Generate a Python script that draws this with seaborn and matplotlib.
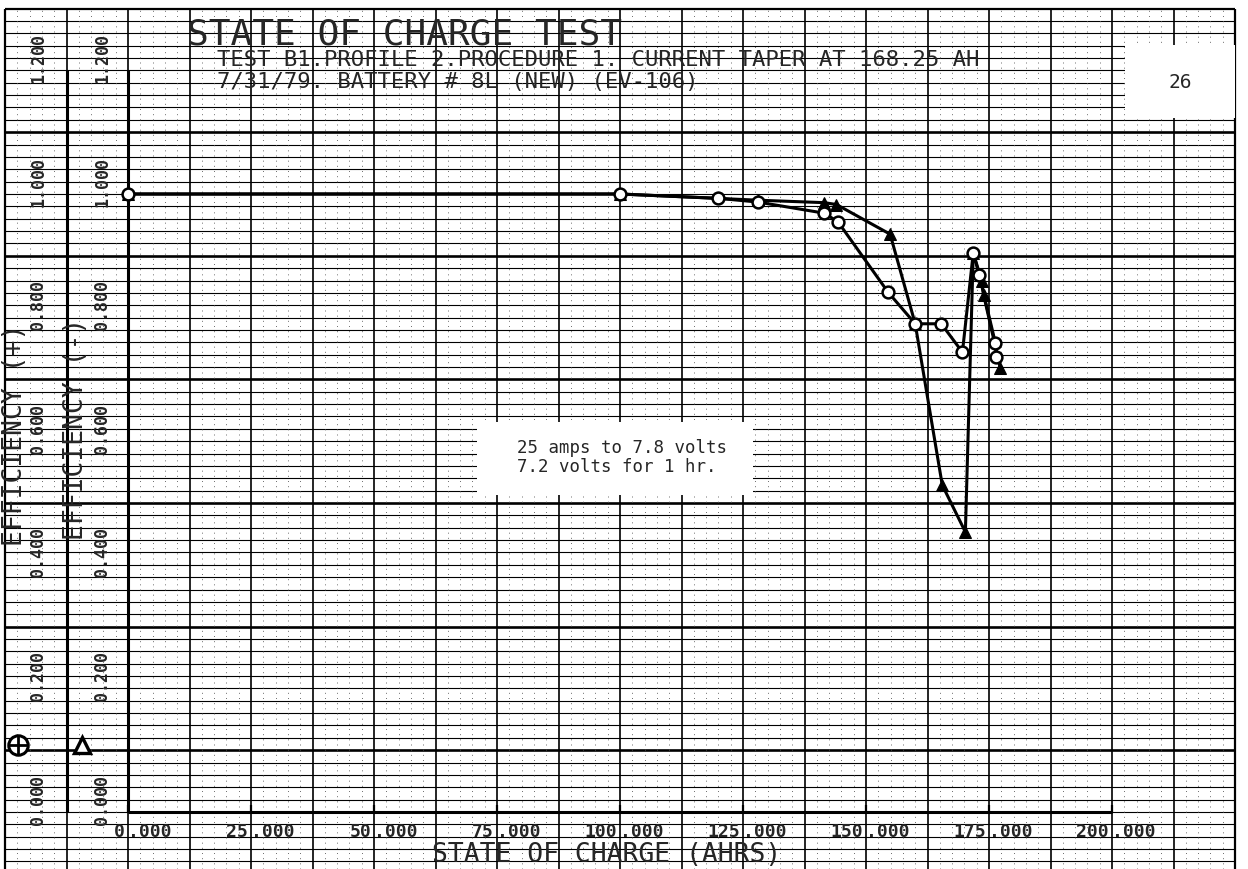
import numpy as np
import pandas as pd
import matplotlib
matplotlib.use("Agg")
import matplotlib.pyplot as plt
import seaborn as sns

# ---------------- data ----------------
pos_ahrs = [0, 100, 120, 128, 141.5, 144.3, 154.5, 160, 165.3, 169.6, 171.8, 173.0, 176.3, 176.5]
pos_eff = [1.0, 1.0, 0.993, 0.987, 0.969, 0.955, 0.841, 0.790, 0.790, 0.744, 0.905, 0.869, 0.759, 0.736]

neg_ahrs = [0, 100, 128, 141.5, 144.0, 154.9, 160, 165.5, 170.2, 171.8, 173.5, 173.9, 177.3]
neg_eff = [1.0, 1.0, 0.990, 0.986, 0.983, 0.935, 0.790, 0.529, 0.453, 0.905, 0.860, 0.837, 0.718]

x_ticks = [0, 25, 50, 75, 100, 125, 150, 175, 200]
y_ticks = [0.0, 0.2, 0.4, 0.6, 0.8, 1.0, 1.2]

title = "STATE OF CHARGE TEST"
subtitle1 = "TEST B1.PROFILE 2.PROCEDURE 1. CURRENT TAPER AT 168.25 AH"
subtitle2 = "7/31/79. BATTERY # 8L (NEW) (EV-106)"
note = "25 amps to 7.8 volts\n7.2 volts for 1 hr."
page_no = "26"

# ---------------- figure ----------------
sns.set_theme(style="white")
plt.rcParams["font.family"] = ["DejaVu Sans Mono", "DejaVu Sans"]

W, H = 1248, 869
fig = plt.figure(figsize=(W / 100, H / 100), dpi=100)
ax = fig.add_axes([0, 0, 1, 1])

X0, PX = 128, 4.92   # pixel of x=0, pixels per AHR
Y0, PY = 812, 618    # pixel of y=0, pixels per unit efficiency

xmin, xmax = -X0 / PX, (W - X0) / PX
ymin, ymax = (Y0 - H) / PY, Y0 / PY

# chart-paper grid
gx0, gx1, gtop = -25, 225, 1.30
hy = np.round(np.arange(-0.08, 1.29, 0.02), 3)
thick = np.round(np.arange(0.1, 1.2, 0.2), 3)
thin = [v for v in hy if not np.any(np.isclose(v, thick))]
ax.hlines(thin, gx0, gx1, color="black", lw=0.8, zorder=1)
ax.hlines(thick, gx0, gx1, color="black", lw=1.9, zorder=1)
vmaj = np.arange(gx0, gx1 + 0.1, 12.5)
ax.vlines(vmaj, ymin, gtop, color="black", lw=1.2, zorder=1)
vmin = [v for v in np.arange(gx0, gx1, 2.5) if not np.any(np.isclose(v, vmaj))]
ax.vlines(vmin, ymin, gtop, color="0.35", lw=0.6, linestyles=(0, (1.2, 5)), zorder=1)
ax.hlines(gtop, gx0, gx1, color="black", lw=1.6, zorder=2)
ax.vlines([gx0, gx1], ymin, gtop, color="black", lw=1.6, zorder=2)

# blank areas on the paper
ax.add_patch(plt.Rectangle((202.6, 1.123), 22.4, 0.118, facecolor="white",
                           edgecolor="none", zorder=2))
ax.add_patch(plt.Rectangle((70.9, 0.513), 56.1, 0.118, facecolor="white",
                           edgecolor="none", zorder=2))

# plotter axes
ax.hlines(0, 0, 200, color="black", lw=2.2, zorder=3)
ax.vlines(0, 0, 1.2, color="black", lw=2.2, zorder=3)
ax.vlines(-12.5, 0, 1.2, color="black", lw=2.2, zorder=3)
ax.vlines(x_ticks, 0, 0.012, color="black", lw=1.6, zorder=3)

# data
df_pos = pd.DataFrame({"ahrs": pos_ahrs, "eff": pos_eff})
df_neg = pd.DataFrame({"ahrs": neg_ahrs, "eff": neg_eff})
sns.lineplot(data=df_neg, x="ahrs", y="eff", ax=ax, sort=False, estimator=None,
             color="black", lw=2.2, marker="^", markersize=8,
             markerfacecolor="black", markeredgecolor="black", zorder=5)
sns.lineplot(data=df_pos, x="ahrs", y="eff", ax=ax, sort=False, estimator=None,
             color="black", lw=2.2, marker="o", markersize=8.5,
             markerfacecolor="white", markeredgecolor="black",
             markeredgewidth=1.8, zorder=6)

# legend keys at the left
ax.plot([-22.4], [0.108], marker="o", ms=14, mfc="white", mec="black", mew=2.2,
        ls="none", zorder=6)
ax.plot([-22.4], [0.108], marker="+", ms=14, mec="black", mew=2.0, ls="none", zorder=7)
ax.plot([-9.4], [0.108], marker="^", ms=12, mfc="white", mec="black", mew=2.4,
        ls="none", zorder=6)

# tick labels
for v in x_ticks:
    ax.text(v - 0.6, -0.018, f"{v}", ha="right", va="top", fontsize=13,
            fontweight="bold", zorder=8)
    ax.text(v, -0.018, ".000", ha="left", va="top", fontsize=13,
            fontweight="bold", zorder=8)
for v in y_ticks:
    for xp in (-18.2, -5.2):
        ax.text(xp, v + 0.02, f"{v:.3f}", rotation=90, ha="center", va="center",
                fontsize=12, fontweight="bold", zorder=8)

ax.text(-22.9, 0.61, "EFFICIENCY (+)", rotation=90, ha="center", va="center",
        fontsize=19, zorder=8)
ax.text(-10.6, 0.62, "EFFICIENCY (-)", rotation=90, ha="center", va="center",
        fontsize=19, zorder=8)
ax.text((432 - X0) / PX, (Y0 - 862) / PY, "STATE OF CHARGE (AHRS)", ha="left",
        va="baseline", fontsize=19, zorder=8)

# titles
ax.text((187 - X0) / PX, (Y0 - 44) / PY, title, ha="left", va="baseline",
        fontsize=26, zorder=8)
ax.text((217 - X0) / PX, (Y0 - 66) / PY, subtitle1, ha="left", va="baseline",
        fontsize=16, zorder=8)
ax.text((217 - X0) / PX, (Y0 - 88) / PY, subtitle2, ha="left", va="baseline",
        fontsize=16, zorder=8)

ax.text(79.1, 0.574, note, ha="left", va="center", fontsize=12.5,
        linespacing=1.1, zorder=8)
ax.text(213.8, 1.18, page_no, ha="center", va="center", fontsize=14, zorder=8)

ax.set_xlim(xmin, xmax)
ax.set_ylim(ymin, ymax)
ax.axis("off")

fig.savefig("out.png", dpi=100, facecolor="white")
